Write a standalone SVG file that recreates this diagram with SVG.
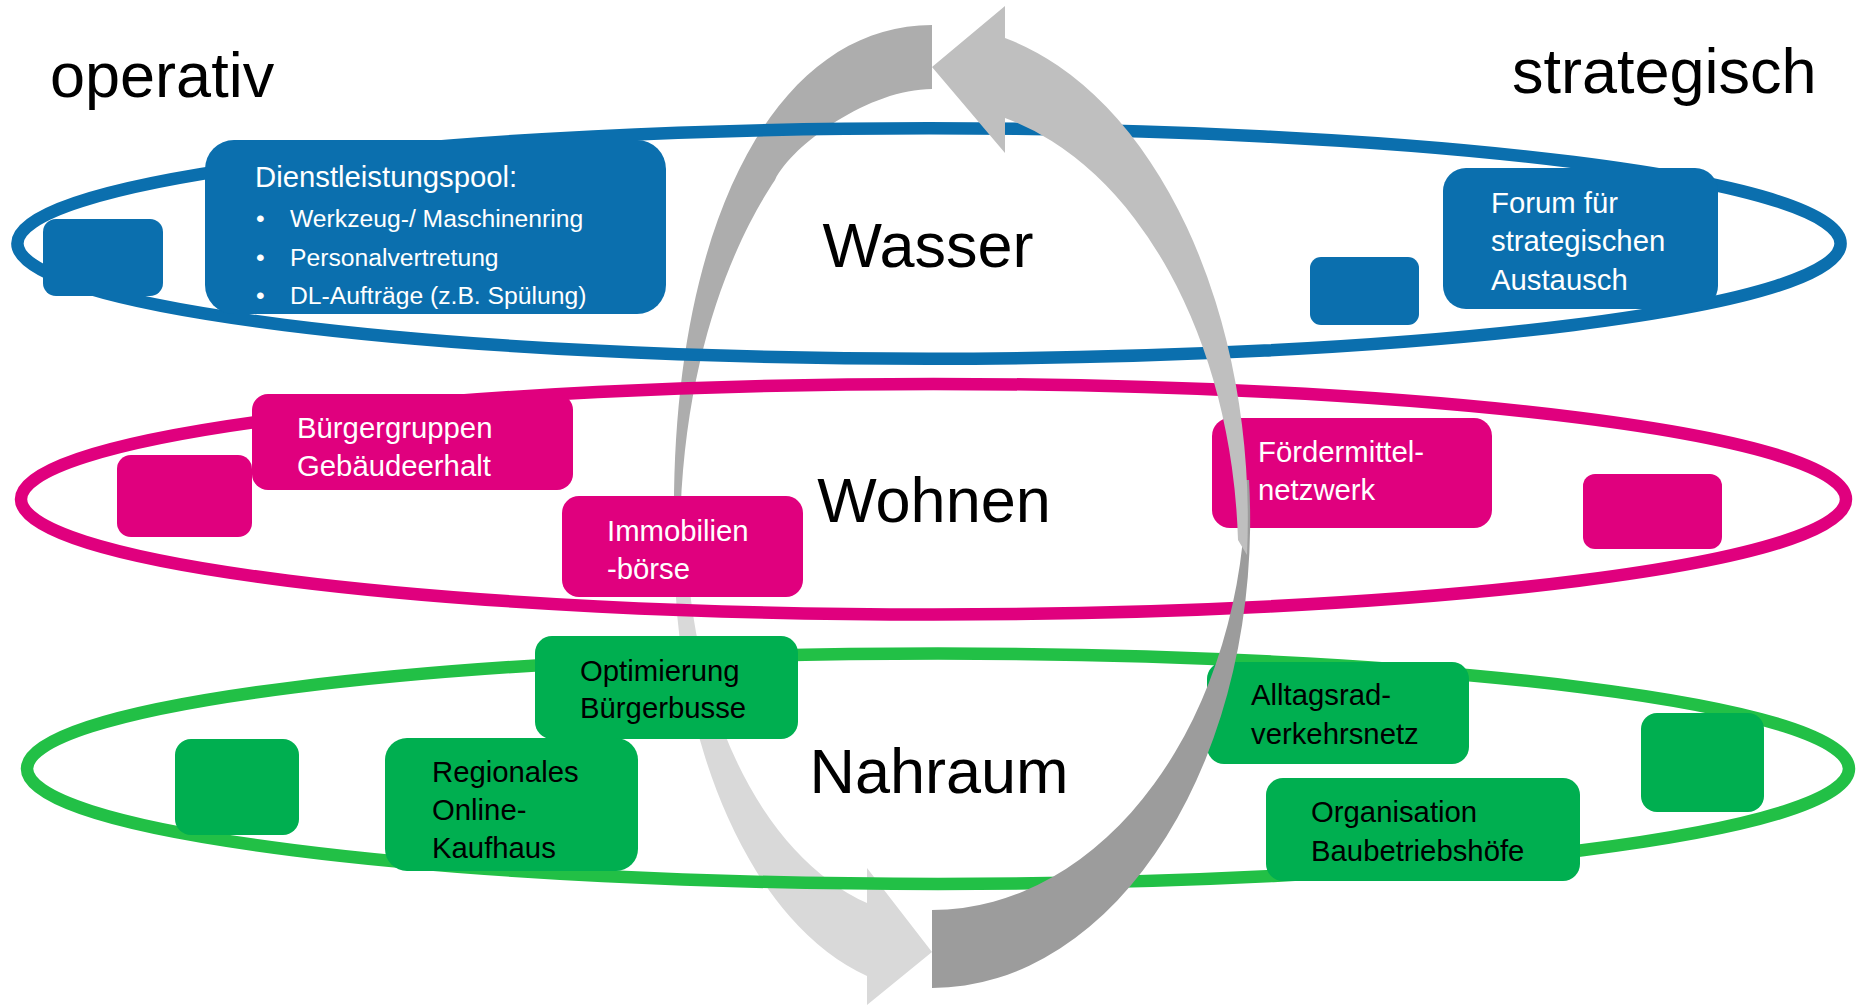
<svg xmlns="http://www.w3.org/2000/svg" width="1857" height="1006" viewBox="0 0 1857 1006">
<defs>
<style>
.ring{fill:none;stroke-width:12.5}
.blue{fill:#0B6FAE}
.pink{fill:#E0007E}
.green{fill:#00AF50}
.t{font-family:"Liberation Sans",Arial,sans-serif;font-size:29.3px}
.ts{font-family:"Liberation Sans",Arial,sans-serif;font-size:24.7px}
.w{fill:#FFFFFF}
.k{fill:#000000}
.big{font-family:"Liberation Sans",Arial,sans-serif;font-size:63px;fill:#000000}
</style>
</defs>
<rect x="0" y="0" width="1857" height="1006" fill="#FFFFFF"/>

<g id="cycle-arrows-back">
<path id="arrow-top-left" d="M932,25 C777,25 674,219 674,510 L677,548 L680,545 C680,360 735,240 775,180 C792.6,144 870,89 932,89 Z" fill="#ADADAD"/>
<path id="arrow-bottom-left" d="M932,952 L867,1005 L867,976 A258 445 0 0 1 674,545 L686,520 A246 397 0 0 0 867,903 L867,868 Z" fill="#D9D9D9"/>
</g>

<g id="rings">
<ellipse id="ring-wasser" cx="929" cy="243.5" rx="911.6" ry="115.2" class="ring" stroke="#0B6FAE"/>
<ellipse id="ring-wohnen" cx="933.5" cy="499.2" rx="912.5" ry="115.3" class="ring" stroke="#E0007E"/>
<ellipse id="ring-nahraum" cx="938" cy="768.8" rx="911" ry="115.2" class="ring" stroke="#22C046"/>
</g>

<g id="node-blue-small-left"><rect class="blue" x="43" y="219" width="120" height="77" rx="13"/></g>
<g id="node-dienstleistungspool">
<rect class="blue" x="205" y="140" width="461" height="174" rx="29"/>
<text class="t w" x="255" y="187">Dienstleistungspool:</text>
<text class="ts w" x="256" y="227">•</text>
<text class="ts w" x="290" y="227">Werkzeug-/ Maschinenring</text>
<text class="ts w" x="256" y="266">•</text>
<text class="ts w" x="290" y="266">Personalvertretung</text>
<text class="ts w" x="256" y="304">•</text>
<text class="ts w" x="290" y="304">DL-Aufträge (z.B. Spülung)</text>
</g>
<g id="node-blue-small-right"><rect class="blue" x="1310" y="257" width="109" height="68" rx="11"/></g>
<g id="node-forum">
<rect class="blue" x="1443" y="168" width="275" height="141" rx="23"/>
<text class="t w" x="1491" y="213">Forum für</text>
<text class="t w" x="1491" y="251">strategischen</text>
<text class="t w" x="1491" y="290">Austausch</text>
</g>

<g id="node-pink-small-left"><rect class="pink" x="117" y="455" width="135" height="82" rx="14"/></g>
<g id="node-buergergruppen">
<rect class="pink" x="252" y="394" width="321" height="96" rx="16"/>
<text class="t w" x="297" y="438">Bürgergruppen</text>
<text class="t w" x="297" y="476">Gebäudeerhalt</text>
</g>
<g id="node-immobilienboerse">
<rect class="pink" x="562" y="496" width="241" height="101" rx="17"/>
<text class="t w" x="607" y="541">Immobilien</text>
<text class="t w" x="607" y="579">-börse</text>
</g>
<g id="node-foerdermittel">
<rect class="pink" x="1212" y="418" width="280" height="110" rx="18"/>
<text class="t w" x="1258" y="462">Fördermittel-</text>
<text class="t w" x="1258" y="500">netzwerk</text>
</g>
<g id="node-pink-small-right"><rect class="pink" x="1583" y="474" width="139" height="75" rx="12"/></g>

<g id="node-green-small-left"><rect class="green" x="175" y="739" width="124" height="96" rx="16"/></g>
<g id="node-optimierung">
<rect class="green" x="535" y="636" width="263" height="103" rx="17"/>
<text class="t k" x="580" y="681">Optimierung</text>
<text class="t k" x="580" y="718">Bürgerbusse</text>
</g>
<g id="node-regionales">
<rect class="green" x="385" y="738" width="253" height="133" rx="22"/>
<text class="t k" x="432" y="782">Regionales</text>
<text class="t k" x="432" y="820">Online-</text>
<text class="t k" x="432" y="858">Kaufhaus</text>
</g>
<g id="node-alltagsrad">
<rect class="green" x="1207" y="662" width="262" height="102" rx="17"/>
<text class="t k" x="1251" y="705">Alltagsrad-</text>
<text class="t k" x="1251" y="744">verkehrsnetz</text>
</g>
<g id="node-organisation">
<rect class="green" x="1266" y="778" width="314" height="103" rx="17"/>
<text class="t k" x="1311" y="822">Organisation</text>
<text class="t k" x="1311" y="861">Baubetriebshöfe</text>
</g>
<g id="node-green-small-right"><rect class="green" x="1641" y="713" width="123" height="99" rx="16"/></g>

<g id="cycle-arrows-front">
<path id="arrow-bottom-right" d="M932,988 A318 468 0 0 0 1249,480 L1246,480 A314 430 0 0 1 932,910 Z" fill="#9C9C9C"/>
<path id="arrow-top-right" d="M932,67 L1005,6 L1005,38 A316 495 0 0 1 1247,555 L1238,540 A306 455 0 0 0 1005,118 L1005,153 Z" fill="#BFBFBF"/>
</g>

<g id="labels">
<text class="big" x="50" y="97">operativ</text>
<text class="big" x="1512" y="93">strategisch</text>
<text class="big" x="928" y="267" text-anchor="middle">Wasser</text>
<text class="big" x="934" y="522" text-anchor="middle">Wohnen</text>
<text class="big" x="939" y="793" text-anchor="middle">Nahraum</text>
</g>
</svg>
